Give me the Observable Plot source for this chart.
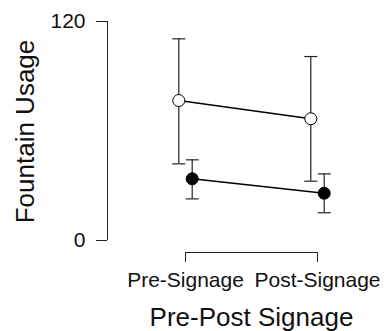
<!DOCTYPE html>
<html>
<head>
<meta charset="utf-8">
<script src="https://cdn.jsdelivr.net/npm/d3@7"></script>
<script src="https://cdn.jsdelivr.net/npm/@observablehq/plot@0.6"></script>
<style>
  html, body { margin: 0; padding: 0; background: #fff; }
  svg { font-family: "Liberation Sans", Arial, sans-serif; }
</style>
</head>
<body>
<div id="chart"></div>
<script>
const conditions = ["Pre-Signage", "Post-Signage"];
const openMean = [76.7, 66.7];
const openLow = [42.0, 32.5];
const openHigh = [110.5, 100.8];
const filledMean = [33.8, 25.9];
const filledLow = [22.8, 15.2];
const filledHigh = [44.2, 36.5];
const yTicks = [0, 120];

const openData = conditions.map((c, i) => ({cond: c, mean: openMean[i], low: openLow[i], high: openHigh[i]}));
const filledData = conditions.map((c, i) => ({cond: c, mean: filledMean[i], low: filledLow[i], high: filledHigh[i]}));

const off = 6.7;
const cap = 6.5;
const ink = "#222";

// horizontal bar symbol for error-bar caps
const capSymbol = {
  draw(context, size) {
    const w = Math.sqrt(size / Math.PI);
    context.moveTo(-w, 0);
    context.lineTo(w, 0);
  }
};

function series(data, dx, fill) {
  return [
    Plot.ruleX(data, {x: "cond", y1: "low", y2: "high", dx, stroke: ink, strokeWidth: 1.2}),
    Plot.dot(data, {x: "cond", y: "low", dx, r: cap, symbol: capSymbol, fill: "none", stroke: ink, strokeWidth: 1.2}),
    Plot.dot(data, {x: "cond", y: "high", dx, r: cap, symbol: capSymbol, fill: "none", stroke: ink, strokeWidth: 1.2}),
    Plot.line(data, {x: "cond", y: "mean", dx, stroke: "#000", strokeWidth: 1.6}),
    Plot.dot(data, {x: "cond", y: "mean", dx, r: 6, fill, stroke: "#000", strokeWidth: 1})
  ];
}

const chart = Plot.plot({
  width: 384,
  height: 331,
  marginLeft: 185,
  marginRight: 67,
  marginTop: 21,
  marginBottom: 79,
  style: {fontFamily: "Liberation Sans, Arial, sans-serif", background: "#fff", color: "#222"},
  x: {type: "point", domain: conditions, range: [185, 317], padding: 0, axis: null},
  y: {domain: [0, 120], range: [240, 21], axis: null},
  marks: [
    Plot.ruleX([conditions[0]], {y1: 0, y2: 120, dx: -78, stroke: ink, strokeWidth: 1}),
    Plot.axisY({ticks: yTicks, dx: -78, tickSize: 11, tickFormat: () => "", label: null, stroke: ink}),
    Plot.text(yTicks, {y: d => d, frameAnchor: "left", textAnchor: "end", dx: -100, fontSize: 21, fill: "#111"}),
    Plot.frame({anchor: "bottom", stroke: ink, strokeWidth: 1}),
    Plot.axisX({tickSize: 10, tickPadding: 10, fontSize: 21, label: null, stroke: ink, fill: "#111"}),
    ...series(openData, -off, "#fff"),
    ...series(filledData, off, "#000"),
    Plot.text(["Pre-Post Signage"], {frameAnchor: "bottom", textAnchor: "middle", lineAnchor: "bottom", dy: 73, fontSize: 26, fill: "#111"}),
    Plot.text(["Fountain Usage"], {frameAnchor: "left", textAnchor: "middle", lineAnchor: "bottom", rotate: -90, dx: -152, dy: -5.5, fontSize: 26, fill: "#111"})
  ]
});
document.getElementById("chart").appendChild(chart);
</script>
</body>
</html>
